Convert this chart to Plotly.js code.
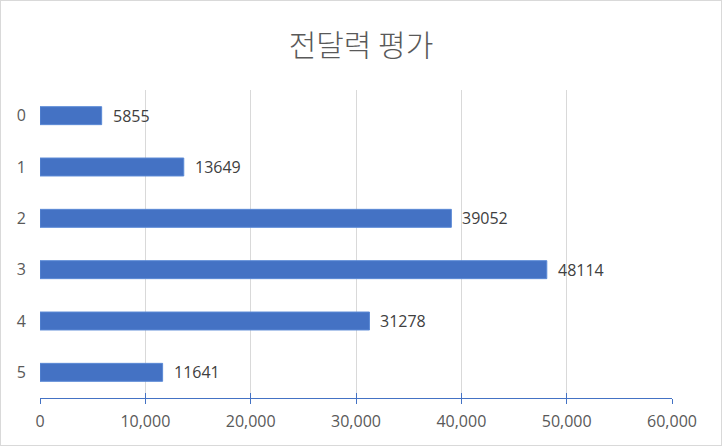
<!DOCTYPE html>
<html>
<head>
<meta charset="utf-8">
<script src="https://cdn.plot.ly/plotly-3.0.1.min.js"></script>
<style>
html,body{margin:0;padding:0;background:#fff;}
#chart{width:720px;height:444px;border:1px solid #d9d9d9;}
</style>
</head>
<body>
<div id="chart"></div>
<script>
const categories = ["0", "1", "2", "3", "4", "5"];
const values = [5855, 13649, 39052, 48114, 31278, 11641];
const xTickValues = [0, 10000, 20000, 30000, 40000, 50000, 60000];
const xTickLabels = ["0", "10,000", "20,000", "30,000", "40,000", "50,000", "60,000"];
const chartTitle = "전달력 평가";

const font = "'Open Sans', 'Noto Sans CJK KR', sans-serif";

const trace = {
  type: "bar",
  orientation: "h",
  y: categories,
  x: values,
  width: 0.35,
  marker: {color: "#4472C4", line: {color: "#5B8AD6", width: 1}},
  hoverinfo: "none"
};

// invisible copy on the overlay axis, so its inner tick marks are drawn
const tickTrace = Object.assign({}, trace, {xaxis: "x2", yaxis: "y", opacity: 0});

const annotations = values.map((v, i) => ({
  x: v, y: categories[i], xref: "x", yref: "y",
  text: String(v), showarrow: false,
  xanchor: "left", yanchor: "middle", xshift: 9,
  font: {family: font, size: 16, color: "#404040"}
}));

const baseX = {
  range: [0, 60000],
  tickvals: xTickValues,
  zeroline: false,
  showline: true, linecolor: "#4472C4", linewidth: 1,
  ticklen: 5, tickcolor: "#4472C4",
  fixedrange: true
};

const layout = {
  width: 720, height: 444,
  margin: {l: 39, r: 49, t: 89, b: 47},
  paper_bgcolor: "#fff", plot_bgcolor: "#fff",
  showlegend: false,
  annotations: annotations,
  title: {text: chartTitle, font: {family: "'Noto Sans CJK KR', sans-serif", size: 30, weight: 300, color: "#595959"}, x: 0.5, xanchor: "center", y: 0.9, yanchor: "middle"},
  xaxis: Object.assign({}, baseX, {
    ticktext: xTickLabels,
    showgrid: true, gridcolor: "#d9d9d9", gridwidth: 1,
    ticks: "outside",
    tickfont: {family: font, size: 16, color: "#595959"},
    ticklabelstandoff: 4
  }),
  xaxis2: Object.assign({}, baseX, {
    overlaying: "x", anchor: "y", side: "bottom",
    showgrid: false, ticks: "inside", showticklabels: false
  }),
  yaxis: {
    type: "category",
    autorange: "reversed",
    showgrid: false, zeroline: false, showline: false,
    ticks: "", ticklabelstandoff: 13,
    tickfont: {family: font, size: 16, color: "#595959"},
    fixedrange: true
  }
};

Plotly.newPlot("chart", [tickTrace, trace], layout, {displayModeBar: false, staticPlot: true});
</script>
</body>
</html>
